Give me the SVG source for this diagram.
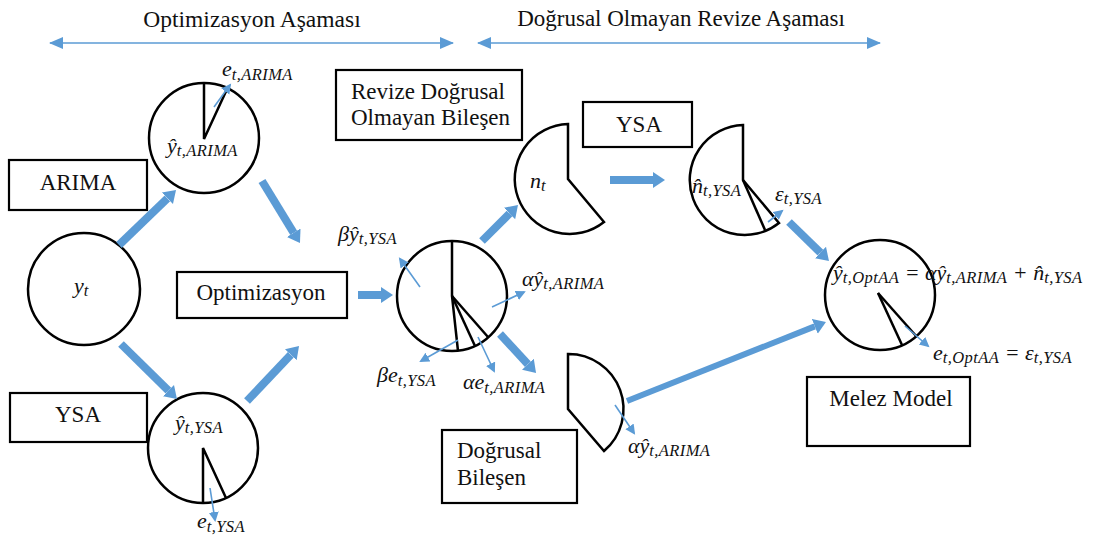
<svg xmlns="http://www.w3.org/2000/svg" width="1102" height="546" viewBox="0 0 1102 546" font-family="'Liberation Serif', 'DejaVu Serif', serif">
<style>
.bx{fill:#fff;stroke:#000;stroke-width:2.2}
.sh{fill:#fff;stroke:#000;stroke-width:2.5}
.ln{fill:none;stroke:#000;stroke-width:2.5}
.t{font-family:'Liberation Serif','DejaVu Serif',serif;font-size:23px;fill:#111}
.m{font-family:'Liberation Serif','DejaVu Serif',serif;font-style:italic;font-size:22px;fill:#111}
.s{font-size:16.5px;letter-spacing:0.4px}
.thick{stroke:#5B9BD5;stroke-width:8;fill:none;marker-end:url(#big)}
.thin{stroke:#5B9BD5;stroke-width:1.6;fill:none;marker-end:url(#small)}
.span{stroke:#5B9BD5;stroke-width:1.6;fill:none;marker-start:url(#dbl);marker-end:url(#dbl)}
</style>
<defs>
<marker id="big" markerUnits="userSpaceOnUse" markerWidth="13" markerHeight="18" refX="0" refY="9" orient="auto"><path d="M0,1 L12,9 L0,17 z" fill="#5B9BD5"/></marker>
<marker id="small" markerUnits="userSpaceOnUse" markerWidth="11" markerHeight="11" refX="8" refY="5" orient="auto"><path d="M0,0 L10,5 L0,10 z" fill="#5B9BD5"/></marker>
<marker id="dbl" markerUnits="userSpaceOnUse" markerWidth="15" markerHeight="12" refX="13" refY="6" orient="auto-start-reverse"><path d="M0,0 L14,6 L0,12 z" fill="#5B9BD5"/></marker>
</defs>
<rect width="1102" height="546" fill="#fff"/>

<g id="phase-titles">
<text class="t" x="252" y="27" text-anchor="middle" style="font-size:23.5px">Optimizasyon Aşaması</text>
<text class="t" x="681" y="26" text-anchor="middle">Doğrusal Olmayan Revize Aşaması</text>
<line class="span" x1="50" y1="43" x2="453" y2="43"/>
<line class="span" x1="478" y1="43" x2="880" y2="43"/>
</g>

<g id="arima-box"><rect class="bx" x="9" y="160" width="138" height="50"/><text class="t" x="78" y="190" text-anchor="middle">ARIMA</text></g>
<g id="ysa-box-left"><rect class="bx" x="10" y="393" width="137" height="49"/><text class="t" x="78" y="422" text-anchor="middle">YSA</text></g>
<g id="opt-box"><rect class="bx" x="177" y="272" width="170" height="46"/><text class="t" x="261" y="300" text-anchor="middle">Optimizasyon</text></g>
<g id="revize-box"><rect class="bx" x="336" y="70" width="186" height="70"/><text class="t" x="351" y="99">Revize Doğrusal</text><text class="t" x="351" y="125">Olmayan Bileşen</text></g>
<g id="ysa-box-right"><rect class="bx" x="583" y="102" width="109" height="45"/><text class="t" x="639" y="132" text-anchor="middle">YSA</text></g>
<g id="dogrusal-box"><rect class="bx" x="442" y="430" width="135" height="73"/><text class="t" x="457" y="458">Doğrusal</text><text class="t" x="457" y="485">Bileşen</text></g>
<g id="melez-box"><rect class="bx" x="807" y="377" width="163" height="69"/><text class="t" x="891" y="406" text-anchor="middle">Melez Model</text></g>

<g id="yt-node"><circle class="sh" cx="84" cy="289" r="56"/><text class="m" x="74" y="293">y<tspan class="s" dy="3">t</tspan></text></g>

<g id="arima-node">
<circle class="sh" cx="204" cy="138" r="55"/>
<polyline class="ln" points="204,83 204,139 228,87"/>
<text class="m" x="167" y="153">ŷ<tspan class="s" dy="3">t,ARIMA</tspan></text>
<text class="m" x="222" y="76">e<tspan class="s" dy="4">t,ARIMA</tspan></text>
</g>

<g id="ysa-node">
<circle class="sh" cx="203" cy="448" r="55"/>
<polyline class="ln" points="203,503 203,448 226,498"/>
<text class="m" x="175" y="430">ŷ<tspan class="s" dy="3">t,YSA</tspan></text>
<text class="m" x="197" y="528">e<tspan class="s" dy="4">t,YSA</tspan></text>
</g>

<g id="opt-node">
<circle class="sh" cx="452" cy="296" r="55"/>
<polyline class="ln" points="452,241 452,296 458,351"/>
<line class="ln" x1="452" y1="296" x2="475" y2="346"/>
<line class="ln" x1="452" y1="296" x2="488" y2="337"/>
<text class="m" x="338" y="241">βŷ<tspan class="s" dy="3">t,YSA</tspan></text>
<text class="m" x="522" y="286">αŷ<tspan class="s" dy="3">t,ARIMA</tspan></text>
<text class="m" x="377" y="382">βe<tspan class="s" dy="4">t,YSA</tspan></text>
<text class="m" x="463" y="389">αe<tspan class="s" dy="4">t,ARIMA</tspan></text>
</g>

<g id="nt-node">
<path class="sh" d="M568,124 L568,179 L604,222 A55,55 0 1 1 568,124 Z"/>
<text class="m" x="530" y="188">n<tspan class="s" dy="3">t</tspan></text>
</g>

<g id="nhat-node">
<path class="sh" d="M743,125 L743,180 L779,223 A55,55 0 1 1 743,125 Z"/>
<line class="ln" x1="743" y1="180" x2="765" y2="230"/>
<text class="m" x="692" y="193">n̂<tspan class="s" dy="3">t,YSA</tspan></text>
<text class="m" x="775" y="201">ε<tspan class="s" dy="3">t,YSA</tspan></text>
</g>

<g id="linear-node">
<path class="sh" d="M568,354 A55,55 0 0 1 604,451 L568,409 Z"/>
<text class="m" x="628" y="453">αŷ<tspan class="s" dy="3">t,ARIMA</tspan></text>
</g>

<g id="final-node">
<circle class="sh" cx="880" cy="295" r="55"/>
<line class="ln" x1="878" y1="293" x2="902" y2="345"/>
<line class="ln" x1="878" y1="293" x2="917" y2="337"/>
<text class="m" x="833" y="280">ŷ<tspan class="s" dy="3">t,OptAA</tspan><tspan dy="-3"> = αŷ</tspan><tspan class="s" dy="3">t,ARIMA</tspan><tspan dy="-3"> + n̂</tspan><tspan class="s" dy="3">t,YSA</tspan></text>
<text class="m" x="933" y="360">e<tspan class="s" dy="3">t,OptAA</tspan><tspan dy="-3"> = ε</tspan><tspan class="s" dy="3">t,YSA</tspan></text>
</g>

<g id="connectors">
<line class="thick" x1="119" y1="245" x2="167.4" y2="198.3"/>
<line class="thick" x1="121" y1="344" x2="168.4" y2="390.6"/>
<line class="thick" x1="262" y1="181" x2="293.7" y2="232.8"/>
<line class="thick" x1="247" y1="401" x2="290.8" y2="354.7"/>
<line class="thick" x1="358" y1="295" x2="381" y2="295"/>
<line class="thick" x1="482" y1="241" x2="509.5" y2="213.5"/>
<line class="thick" x1="500" y1="334" x2="527.9" y2="364.2"/>
<line class="thick" x1="610" y1="180" x2="653" y2="180"/>
<line class="thick" x1="789" y1="222" x2="820.4" y2="252.6"/>
<line class="thick" x1="627" y1="401" x2="814.8" y2="326.4" style="stroke-width:6"/>
<line class="thin" x1="214" y1="107" x2="230" y2="85"/>
<line class="thin" x1="210" y1="488" x2="215" y2="520"/>
<line class="thin" x1="420" y1="287" x2="400" y2="259"/>
<line class="thin" x1="492" y1="307" x2="524" y2="292"/>
<line class="thin" x1="458" y1="340" x2="421" y2="361"/>
<line class="thin" x1="478" y1="337" x2="494" y2="371"/>
<line class="thin" x1="768" y1="222" x2="782" y2="211"/>
<line class="thin" x1="905" y1="326" x2="928" y2="346"/>
<line class="thin" x1="615" y1="405" x2="634" y2="433"/>
</g>
</svg>
